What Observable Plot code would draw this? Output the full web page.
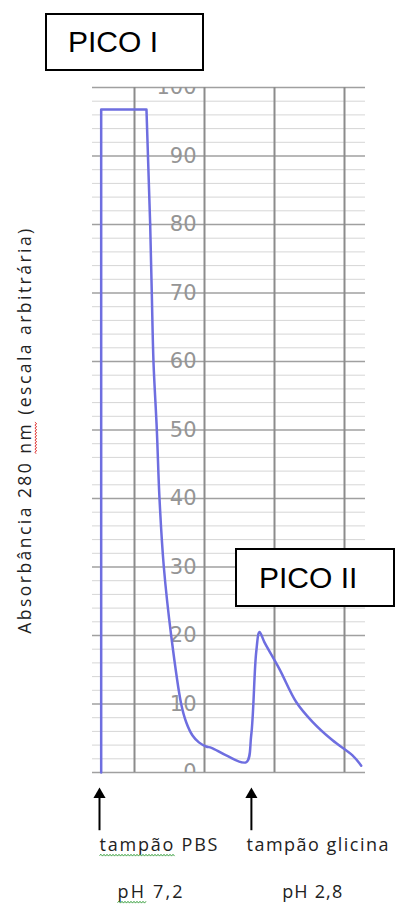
<!DOCTYPE html>
<html><head><meta charset="utf-8">
<script src="https://cdn.jsdelivr.net/npm/d3@7"></script>
<script src="https://cdn.jsdelivr.net/npm/@observablehq/plot@0.6"></script>
<style>
body{margin:0;background:#fff;}
#wrap{position:relative;width:397px;height:909px;overflow:hidden;}
.box{position:absolute;border:2px solid #000;box-sizing:border-box;background:#fff;font-family:"Liberation Sans",Arial,sans-serif;font-size:30px;color:#000;display:flex;align-items:center;}
</style></head><body>
<div id="wrap"></div>
<script>
// Elution volume (arbitrary units) and absorbance at 280 nm (arbitrary scale)
const volume = [5.24, 5.24, 11.71, 12.24, 12.47, 12.71, 13.19, 13.57, 14.19, 15.24, 16.67, 17.4, 18.29, 19.2, 20.24, 21.0, 23.1, 25.96, 26.67, 27.39, 27.86, 28.57, 30.71, 33.1, 35.43, 38.29, 41.14, 42.39];
const absorbance = [0, 96.8, 96.8, 80, 70, 60, 50, 40, 30, 20, 10, 7.3, 5.4, 4.4, 3.8, 3.6, 2.5, 1.5, 5.4, 17.6, 20.5, 19, 15.1, 10.3, 7.4, 4.7, 2.5, 1.0];
const yTicks = [0, 10, 20, 30, 40, 50, 60, 70, 80, 90, 100];
const yMinor = d3.range(0, 101, 2).filter(d => d % 10 !== 0);
const xGrid = [10, 20, 30, 40];
const yLabel = "Absorbância 280 nm (escala arbitrária)";
const bufferX = [5.0, 26.7];
const bufferName = ["tampão PBS", "tampão glicina"];
const bufferNameX = [5.0, 26.0];
const bufferPH = ["pH 7,2", "pH 2,8"];
const bufferPHX = [7.57, 31.1];
const peakNames = ["PICO I", "PICO II"];

const rows = volume.map((v, i) => ({v, a: absorbance[i]}));
const corner = 3; // rectangle part (drawn straight) ends here, the rest is smooth
const names = bufferName.map((t, i) => ({t, x: bufferNameX[i]}));
const phs = bufferPH.map((t, i) => ({t, x: bufferPHX[i]}));

const labelFont = "Open Sans";
const lineStyle = {x: "v", y: "a", stroke: "#6e6ee0", strokeWidth: 2.5, strokeLinejoin: "round", strokeLinecap: "round"};
const chart = Plot.plot({
  width: 397, height: 909,
  marginTop: 87, marginBottom: 137, marginLeft: 92, marginRight: 32,
  x: {domain: [4, 43], axis: null},
  y: {domain: [0, 100], axis: null},
  style: {background: "#fff", overflow: "visible"},
  marks: [
    Plot.ruleY(yMinor, {stroke: "#d6d6d6", strokeWidth: 1}),
    Plot.ruleY(yTicks, {stroke: "#a0a0a0", strokeWidth: 1.5}),
    Plot.ruleX(xGrid, {stroke: "#8c8c8c", strokeWidth: 2}),
    Plot.text(yTicks, {x: () => 20, y: d => d, text: d => String(d), textAnchor: "end", dx: -8, fontSize: 21, fill: "#959595", fontFamily: "DejaVu Sans", clip: true}),
    Plot.line(rows.slice(0, corner + 1), {...lineStyle, curve: "linear"}),
    Plot.line(rows.slice(corner), {...lineStyle, curve: "catmull-rom"}),
    Plot.text([yLabel], {text: d => d, frameAnchor: "left", textAnchor: "middle", dx: -67, rotate: -90, fontSize: 17.5, fontFamily: labelFont, fill: "#222"}),
    Plot.ruleX(bufferX, {x: d => d, y1: () => -8.5, y2: () => -3.0, stroke: "#000", strokeWidth: 2}),
    Plot.dot(bufferX, {x: d => d, y: () => -3.2, symbol: "triangle", r: 4.5, fill: "#000", stroke: "none"}),
    Plot.text(names, {x: "x", text: "t", frameAnchor: "bottom", dy: 78, textAnchor: "start", fontSize: 18, fontFamily: labelFont, fill: "#222"}),
    Plot.text(phs, {x: "x", text: "t", frameAnchor: "bottom", dy: 125, textAnchor: "start", fontSize: 18, fontFamily: labelFont, fill: "#222"})
  ]
});
const wrap = document.getElementById("wrap");
wrap.appendChild(chart);

// spread a few labels to the reference widths, and add the spell-check squiggles
const widths = {"Absorbância 280 nm (escala arbitrária)": 405, "tampão PBS": 118, "tampão glicina": 142, "pH 7,2": 65, "pH 2,8": 60};
const squiggles = {"Absorbância 280 nm (escala arbitrária)": ["nm", "#e03030"], "tampão PBS": ["tampão", "#3aa040"], "pH 7,2": ["pH", "#3aa040"]};
d3.select(chart).selectAll("text").each(function() {
  const s = this.textContent;
  const w = widths[s];
  if (w) {
    const nat = this.getComputedTextLength();
    this.style.letterSpacing = Math.max(0, (w - nat) / (s.length - 1)) + "px";
  }
  const q = squiggles[s];
  if (q) {
    const i = s.indexOf(q[0]);
    const a = this.getStartPositionOfChar(i);
    const b = this.getEndPositionOfChar(i + q[0].length - 1);
    const y0 = a.y + 5;
    let d = `M${a.x},${y0}`;
    let up = true;
    for (let x = a.x + 1.5; x <= b.x; x += 1.5) { d += `L${x},${y0 + (up ? -1.3 : 1.3) * 0 + (up ? -1.2 : 0.6)}`; up = !up; }
    const p = document.createElementNS("http://www.w3.org/2000/svg", "path");
    p.setAttribute("d", d);
    p.setAttribute("fill", "none");
    p.setAttribute("stroke", q[1]);
    p.setAttribute("stroke-width", "1");
    const tr = this.getAttribute("transform");
    if (tr) p.setAttribute("transform", tr);
    this.parentNode.appendChild(p);
  }
});

// peak labels
const boxes = [{left: 45, top: 13, w: 159, h: 58, pad: 21}, {left: 235, top: 548, w: 160, h: 59, pad: 22}];
peakNames.forEach((n, i) => {
  const b = boxes[i];
  const d = document.createElement("div");
  d.className = "box";
  d.style.left = b.left + "px"; d.style.top = b.top + "px";
  d.style.width = b.w + "px"; d.style.height = b.h + "px";
  d.style.paddingLeft = b.pad + "px";
  d.textContent = n;
  wrap.appendChild(d);
});
</script>
</body></html>
